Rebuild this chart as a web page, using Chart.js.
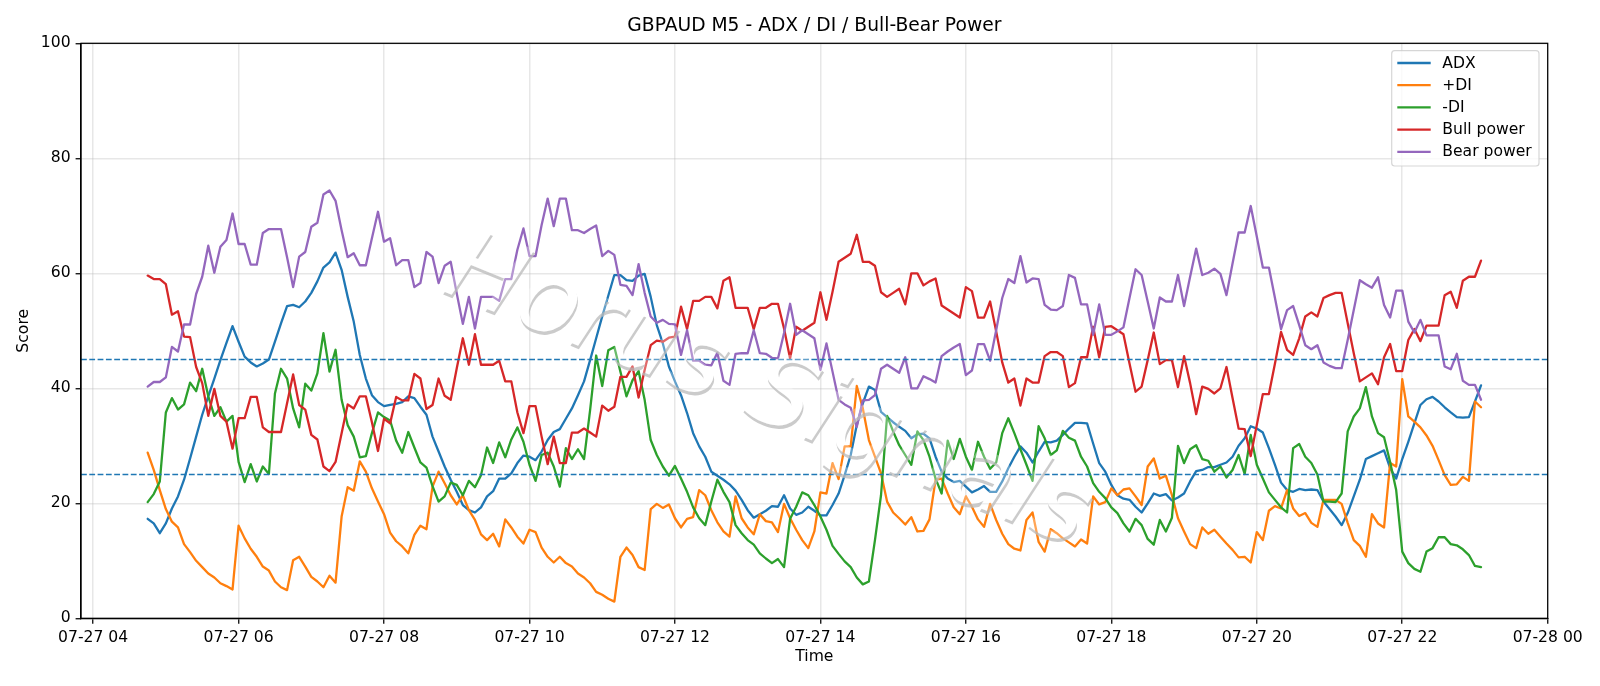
<!DOCTYPE html>
<html>
<head>
<meta charset="utf-8">
<title>GBPAUD M5 - ADX / DI / Bull-Bear Power</title>
<style>
  html, body { margin: 0; padding: 0; background: #fff; }
  canvas { display: block; }
</style>
<script src="https://cdn.jsdelivr.net/npm/chart.js@4/dist/chart.umd.js"></script>
</head>
<body>
<canvas id="chart" width="1600" height="686"></canvas>
<script>
// Sample times, in minutes after 07-27 00:00: one bar every five minutes from 04:45 to 23:05.
const firstBarMinute = 285;
const barMinutes = 5;

const adx = [
  17.3,16.5,14.8,16.5,19.1,21.2,24.1,27.8,31.6,35.4,
  38.6,41.7,44.9,47.9,50.8,48.1,45.5,44.5,43.8,44.3,
  45.0,48.1,51.3,54.3,54.5,54.1,55.1,56.6,58.6,61.0,
  61.9,63.6,60.6,55.9,51.6,45.8,41.7,38.8,37.6,36.9,
  37.1,37.3,37.6,38.6,38.3,36.8,35.4,31.6,29.0,26.4,
  24.1,22.0,19.7,18.8,18.4,19.3,21.2,22.1,24.3,24.3,
  25.2,27.0,28.3,28.1,27.5,29.0,31.0,32.4,32.9,34.7,
  36.5,38.8,41.2,44.9,48.7,52.5,56.1,59.7,59.7,58.8,
  58.7,59.6,59.9,55.9,51.0,47.8,43.8,41.2,38.8,35.7,
  32.2,29.9,28.1,25.5,24.8,24.1,23.3,22.2,20.6,18.8,
  17.5,18.1,18.7,19.5,19.4,21.4,19.1,18.0,18.4,19.4,
  18.7,17.9,17.9,19.7,21.7,24.9,28.4,33.6,37.4,40.3,
  39.7,35.9,35.0,34.1,33.3,32.6,31.3,32.0,32.1,31.3,
  28.1,25.5,24.3,23.7,23.9,22.9,21.9,22.4,23.0,22.0,
  22.0,23.8,26.1,28.1,29.9,28.8,27.1,29.0,30.7,30.6,
  30.9,31.9,33.0,34.0,34.0,33.9,30.4,27.0,25.5,23.2,
  21.4,20.8,20.6,19.4,18.4,20.0,21.7,21.3,21.6,20.5,
  21.0,21.7,23.8,25.6,25.8,26.3,26.3,26.7,27.1,28.1,
  30.0,31.3,33.4,33.0,32.3,29.6,26.7,23.6,22.3,22.0,
  22.5,22.3,22.4,22.3,20.3,19.0,17.7,16.2,18.3,21.2,
  24.1,27.7,28.2,28.7,29.2,26.1,24.3,27.7,30.7,33.9,
  37.1,38.1,38.5,37.7,36.7,35.8,35.0,34.9,35.0,37.7,
  40.5
];

const plusDi = [
  28.8,25.8,22.3,19.0,16.8,15.8,12.9,11.5,10.0,8.9,
  7.8,7.1,6.1,5.6,5.0,16.1,13.9,12.1,10.7,9.0,
  8.3,6.4,5.4,4.9,10.1,10.7,9.0,7.2,6.4,5.4,
  7.4,6.2,17.7,22.8,22.2,27.3,25.5,22.6,20.3,18.1,
  14.9,13.4,12.5,11.3,14.5,16.1,15.5,22.9,25.5,23.5,
  21.4,19.8,21.4,18.8,17.1,14.6,13.6,14.7,12.5,17.2,
  15.8,14.2,13.0,15.4,15.0,12.3,10.7,9.7,10.7,9.6,
  9.0,7.8,7.1,6.1,4.6,4.1,3.4,2.9,10.7,12.3,
  11.0,8.9,8.4,19.0,19.9,19.2,19.8,17.4,15.8,17.3,
  17.6,22.3,21.4,18.8,16.7,15.1,14.2,21.2,17.4,15.8,
  14.6,18.1,16.9,16.7,15.0,19.9,17.4,15.4,13.6,12.2,
  15.1,21.9,21.7,27.0,24.2,29.9,29.9,40.4,36.5,31.0,
  28.1,25.2,20.3,18.4,17.4,16.3,17.6,15.1,15.2,17.2,
  24.1,24.3,21.7,19.3,18.1,21.2,19.4,17.2,15.9,19.9,
  17.1,14.7,12.9,12.1,11.8,17.1,18.4,13.3,11.6,15.5,
  14.8,13.9,13.2,12.5,13.7,13.0,21.2,19.8,20.2,22.6,
  21.4,22.4,22.6,21.2,19.7,26.4,27.8,24.3,24.8,21.4,
  17.4,15.1,12.9,12.2,15.8,14.7,15.4,14.2,13.0,11.9,
  10.6,10.7,9.7,15.0,13.6,18.7,19.5,19.1,22.3,19.1,
  17.8,18.3,16.6,15.9,20.6,20.6,20.6,19.9,16.6,13.6,
  12.6,10.7,18.1,16.5,15.8,27.0,26.4,41.6,35.1,34.2,
  33.2,31.8,30.0,27.5,24.9,23.2,23.3,24.6,23.9,37.7,
  36.7
];

const minusDi = [
  20.2,21.6,23.8,35.8,38.3,36.3,37.2,41.0,39.5,43.4,
  38.6,35.2,36.7,34.2,35.2,27.2,23.7,26.8,23.8,26.4,
  25.1,39.1,43.4,41.7,36.5,33.2,40.8,39.6,42.6,49.6,
  42.9,46.7,38.0,33.6,31.6,28.0,28.2,32.2,35.8,35.0,
  34.4,30.9,28.8,32.4,29.7,27.1,26.2,23.0,20.3,21.2,
  23.6,23.2,21.4,23.9,22.8,24.9,29.7,27.0,30.6,28.0,
  31.1,33.2,30.7,26.7,23.9,28.4,28.8,26.4,22.9,29.6,
  27.7,29.4,27.7,36.2,45.7,40.4,46.6,47.2,42.9,38.6,
  41.4,43.0,38.0,31.0,28.4,26.4,24.8,26.5,24.3,22.0,
  19.3,17.4,16.2,20.3,24.1,22.0,20.2,16.2,14.8,13.6,
  12.8,11.3,10.4,9.6,10.3,8.9,17.3,19.4,21.9,21.4,
  19.7,17.7,15.4,12.6,11.2,9.9,8.9,7.1,5.9,6.4,
  13.6,21.4,35.2,32.5,30.1,28.4,26.7,32.5,31.0,28.1,
  24.3,21.7,30.9,27.7,31.2,28.1,25.8,30.7,28.1,26.0,
  27.1,32.2,34.8,32.2,29.4,26.7,23.9,33.4,31.3,28.4,
  29.2,32.6,31.4,30.9,28.1,26.4,23.5,22.0,20.9,19.3,
  18.3,16.5,15.1,17.3,16.2,13.8,12.8,17.1,15.1,17.5,
  30.0,27.0,29.4,30.1,27.7,27.4,25.5,26.4,24.5,25.8,
  28.4,25.1,31.9,26.7,24.3,21.9,20.6,19.3,18.4,29.6,
  30.3,28.1,27.0,25.0,20.3,20.3,20.2,21.7,32.5,35.1,
  36.5,40.2,35.1,32.2,31.5,27.2,22.3,11.6,9.6,8.6,
  8.1,11.6,12.2,14.1,14.1,12.9,12.7,12.0,11.0,9.1,
  8.9
];

const bullPower = [
  59.6,59.0,59.0,58.1,52.8,53.4,49.0,48.9,43.7,40.9,
  35.2,39.9,35.2,34.2,29.5,34.8,34.8,38.5,38.5,33.2,
  32.4,32.4,32.4,37.4,42.4,37.1,36.3,31.9,31.1,26.4,
  25.6,27.2,32.2,37.2,36.5,38.6,38.6,34.1,29.1,34.7,
  33.9,38.5,37.9,37.9,42.5,41.7,36.4,37.1,41.7,38.7,
  38.0,43.5,48.7,44.1,49.4,44.1,44.1,44.1,44.8,41.2,
  41.2,35.8,32.2,36.9,36.9,31.6,26.8,31.6,27.0,27.0,
  32.3,32.3,33.0,32.3,31.6,37.0,36.1,36.8,42.0,42.0,
  43.8,38.4,43.2,47.5,48.3,48.1,48.8,49.0,54.2,50.3,
  55.2,55.2,55.9,55.9,53.9,58.7,59.3,54.0,54.0,54.0,
  50.3,54.0,54.0,54.7,54.7,50.4,45.2,50.7,50.0,50.7,
  51.4,56.7,51.9,56.8,62.0,62.7,63.4,66.7,62.0,62.0,
  61.3,56.7,55.9,56.6,57.3,54.6,60.0,60.0,57.9,58.6,
  59.1,54.4,53.7,53.0,52.3,57.6,56.9,52.3,52.3,55.1,
  49.9,44.5,41.0,41.7,37.0,41.7,41.0,41.0,45.6,46.3,
  46.3,45.6,40.2,40.9,45.4,45.4,50.7,45.4,50.7,50.8,
  50.1,49.4,44.3,39.4,40.3,44.9,49.7,44.2,44.9,44.9,
  40.2,45.6,40.9,35.5,40.3,39.9,39.1,40.0,43.7,38.3,
  33.0,32.9,28.2,33.6,39.0,39.0,44.3,49.8,46.7,45.8,
  48.7,52.5,53.2,52.5,55.7,56.2,56.6,56.6,51.3,46.1,
  41.2,41.9,42.6,40.7,45.4,47.7,43.0,43.0,48.4,50.3,
  48.2,50.9,50.9,50.9,56.2,56.8,54.0,58.7,59.4,59.4,
  62.2
];

const bearPower = [
  40.3,41.1,41.1,41.9,47.2,46.4,51.1,51.1,56.4,59.4,
  64.8,60.1,64.6,65.8,70.4,65.1,65.1,61.5,61.5,67.0,
  67.7,67.7,67.7,62.8,57.6,62.9,63.7,68.1,68.8,73.7,
  74.4,72.6,67.5,62.8,63.5,61.4,61.4,66.1,70.7,65.5,
  66.1,61.4,62.3,62.3,57.6,58.3,63.7,62.9,58.3,61.3,
  62.0,56.5,51.2,55.9,50.4,55.9,55.9,55.9,55.2,59.0,
  59.0,64.1,67.8,63.0,63.0,68.4,73.0,68.2,73.0,73.0,
  67.5,67.5,67.0,67.7,68.3,63.0,63.9,63.2,58.0,57.8,
  56.2,61.6,56.6,52.5,51.4,51.9,51.2,51.1,45.8,50.1,
  44.8,44.8,44.1,44.0,46.2,41.3,40.6,46.0,46.1,46.1,
  50.1,46.1,46.0,45.3,45.2,49.6,54.7,49.3,50.1,49.4,
  48.7,43.2,47.8,42.9,38.0,37.2,36.6,33.3,37.9,38.0,
  38.8,43.4,44.1,43.4,42.7,45.4,40.0,40.0,42.1,41.6,
  41.0,45.6,46.4,47.1,47.7,42.3,43.1,47.7,47.7,44.8,
  50.1,55.7,59.0,58.3,63.0,58.4,59.1,59.0,54.5,53.7,
  53.6,54.3,59.7,59.2,54.6,54.6,49.3,54.6,49.3,49.3,
  49.9,50.6,55.7,60.7,59.7,55.1,50.4,55.8,55.1,55.1,
  59.7,54.3,59.4,64.3,59.7,60.1,60.8,59.9,56.2,61.7,
  67.1,67.1,71.7,66.4,61.0,61.0,55.7,50.3,53.6,54.3,
  51.0,47.5,46.8,47.5,44.5,43.9,43.5,43.5,48.4,53.6,
  58.8,58.1,57.5,59.3,54.5,52.3,57.0,57.0,51.6,49.7,
  51.9,49.2,49.2,49.2,43.8,43.3,46.0,41.3,40.6,40.6,
  38.0
];

const seriesNames = ['ADX', '+DI', '-DI', 'Bull power', 'Bear power'];
const seriesColors = ['#1f77b4', '#ff7f0e', '#2ca02c', '#d62728', '#9467bd'];
const seriesValues = [adx, plusDi, minusDi, bullPower, bearPower];

const thresholds = [45, 25];
const timeTicks = [240, 360, 480, 600, 720, 840, 960, 1080, 1200, 1320, 1440];
const timeTickLabels = ['07-27 04', '07-27 06', '07-27 08', '07-27 10', '07-27 12', '07-27 14',
                        '07-27 16', '07-27 18', '07-27 20', '07-27 22', '07-28 00'];
const scoreTicks = [0, 20, 40, 60, 80, 100];
const xRange = [230, 1440];
const yRange = [0, 100];
const stampText = 'Horus Signals';

const FONT = '"DejaVu Sans", sans-serif';
const GRID = 'rgba(176,176,176,0.3)';

const minuteOf = i => firstBarMinute + i * barMinutes;

const lineSets = seriesValues.map((values, k) => ({
  label: seriesNames[k],
  data: values.map((y, i) => ({ x: minuteOf(i), y })),
  borderColor: seriesColors[k],
  backgroundColor: seriesColors[k],
  borderWidth: 2.3,
  pointRadius: 0,
  tension: 0,
  borderJoinStyle: 'round',
  borderCapStyle: 'round',
  order: 10 - k
}));

const thresholdSets = thresholds.map(level => ({
  label: 'level ' + level,
  data: xRange.map(x => ({ x, y: level })),
  borderColor: '#1f77b4',
  borderWidth: 1.55,
  borderDash: [5.8, 2.5],
  pointRadius: 0,
  order: 1
}));

// Axes frame, legend box and the diagonal stamp sit above the plotted lines.
const overlays = {
  id: 'overlays',
  afterDraw(chart) {
    const { ctx, chartArea: a } = chart;
    drawStamp(chart);

    ctx.save();
    ctx.strokeStyle = '#000';
    ctx.lineWidth = 1.25;
    ctx.strokeRect(a.left, a.top, a.right - a.left, a.bottom - a.top);
    ctx.restore();

    drawLegend(ctx);
  }
};

function drawStamp(chart) {
  const { ctx } = chart;
  const place = (c) => {
    c.translate(stampSpot.x, stampSpot.y);
    c.rotate(stampSpot.angle * Math.PI / 180);
    c.font = 'italic ' + stampSpot.size + 'px ' + FONT;
    c.textBaseline = 'alphabetic';
  };

  // The grey edge is what stays of an offset copy once the letter itself is cut out of it.
  const layer = document.createElement('canvas');
  layer.width = chart.width;
  layer.height = chart.height;
  const c = layer.getContext('2d');
  place(c);
  c.fillStyle = 'rgba(190,190,190,0.8)';
  c.fillText(stampText, stampSpot.dx, stampSpot.dy);
  c.globalCompositeOperation = 'destination-out';
  c.fillStyle = '#000';
  c.fillText(stampText, 0, 0);

  ctx.save();
  ctx.drawImage(layer, 0, 0);
  place(ctx);
  ctx.fillStyle = 'rgba(255,255,255,0.3)';
  ctx.fillText(stampText, 0, 0);
  ctx.restore();
}

const stampSpot = { x: 440, y: 290, angle: 22, size: 100, dx: 2, dy: 3 };

function drawLegend(ctx) {
  const box = { x: 1391.7, y: 50.7, w: 147.3, h: 115.3 };
  const rowY = [63, 85.2, 107.4, 129.6, 151.8];
  ctx.save();
  ctx.beginPath();
  ctx.roundRect(box.x, box.y, box.w, box.h, 3);
  ctx.fillStyle = 'rgba(255,255,255,0.8)';
  ctx.fill();
  ctx.strokeStyle = 'rgba(204,204,204,0.8)';
  ctx.lineWidth = 1.2;
  ctx.stroke();
  ctx.font = '15.6px ' + FONT;
  ctx.textBaseline = 'middle';
  ctx.textAlign = 'left';
  seriesNames.forEach((name, k) => {
    ctx.strokeStyle = seriesColors[k];
    ctx.lineWidth = 2.3;
    ctx.beginPath();
    ctx.moveTo(1397.3, rowY[k]);
    ctx.lineTo(1430.7, rowY[k]);
    ctx.stroke();
    ctx.fillStyle = '#000';
    ctx.fillText(name, 1442.3, rowY[k] + 0.5);
  });
  ctx.restore();
}

new Chart(document.getElementById('chart'), {
  type: 'line',
  data: { datasets: [...lineSets, ...thresholdSets] },
  plugins: [overlays],
  options: {
    responsive: false,
    animation: false,
    parsing: false,
    normalized: true,
    layout: { padding: { left: 0, right: 52.3, top: 0, bottom: 0 } },
    plugins: {
      legend: { display: false },
      tooltip: { enabled: false },
      title: {
        display: true,
        text: 'GBPAUD M5 - ADX / DI / Bull-Bear Power',
        color: '#000',
        fullSize: false,
        font: { family: FONT, size: 18.7, weight: 'normal', lineHeight: 1.2 },
        padding: { top: 15.3, bottom: 5.56 }
      }
    },
    scales: {
      x: {
        type: 'linear',
        min: xRange[0],
        max: xRange[1],
        afterBuildTicks: axis => { axis.ticks = timeTicks.map(value => ({ value })); },
        afterFit: axis => { axis.height = 67.7; },
        grid: { color: GRID, lineWidth: 1.5, tickColor: '#000', tickWidth: 1.25, tickLength: 5.4 },
        border: { color: '#000', width: 1.25 },
        ticks: {
          autoSkip: false,
          maxRotation: 0,
          color: '#000',
          padding: 5,
          font: { family: FONT, size: 15.6 },
          callback: value => timeTickLabels[timeTicks.indexOf(value)]
        },
        title: {
          display: true,
          text: 'Time',
          color: '#000',
          font: { family: FONT, size: 15.6 },
          padding: { top: 0, bottom: 19.6 }
        }
      },
      y: {
        type: 'linear',
        min: yRange[0],
        max: yRange[1],
        afterBuildTicks: axis => { axis.ticks = scoreTicks.map(value => ({ value })); },
        afterFit: axis => { axis.width = 81; },
        grid: { color: GRID, lineWidth: 1.5, tickColor: '#000', tickWidth: 1.25, tickLength: 5.4 },
        border: { color: '#000', width: 1.25 },
        ticks: {
          color: '#000',
          padding: 5,
          font: { family: FONT, size: 15.6 }
        },
        title: {
          display: true,
          text: 'Score',
          color: '#000',
          font: { family: FONT, size: 15.6 },
          padding: { top: 15, bottom: 0 }
        }
      }
    }
  }
});
</script>
</body>
</html>
